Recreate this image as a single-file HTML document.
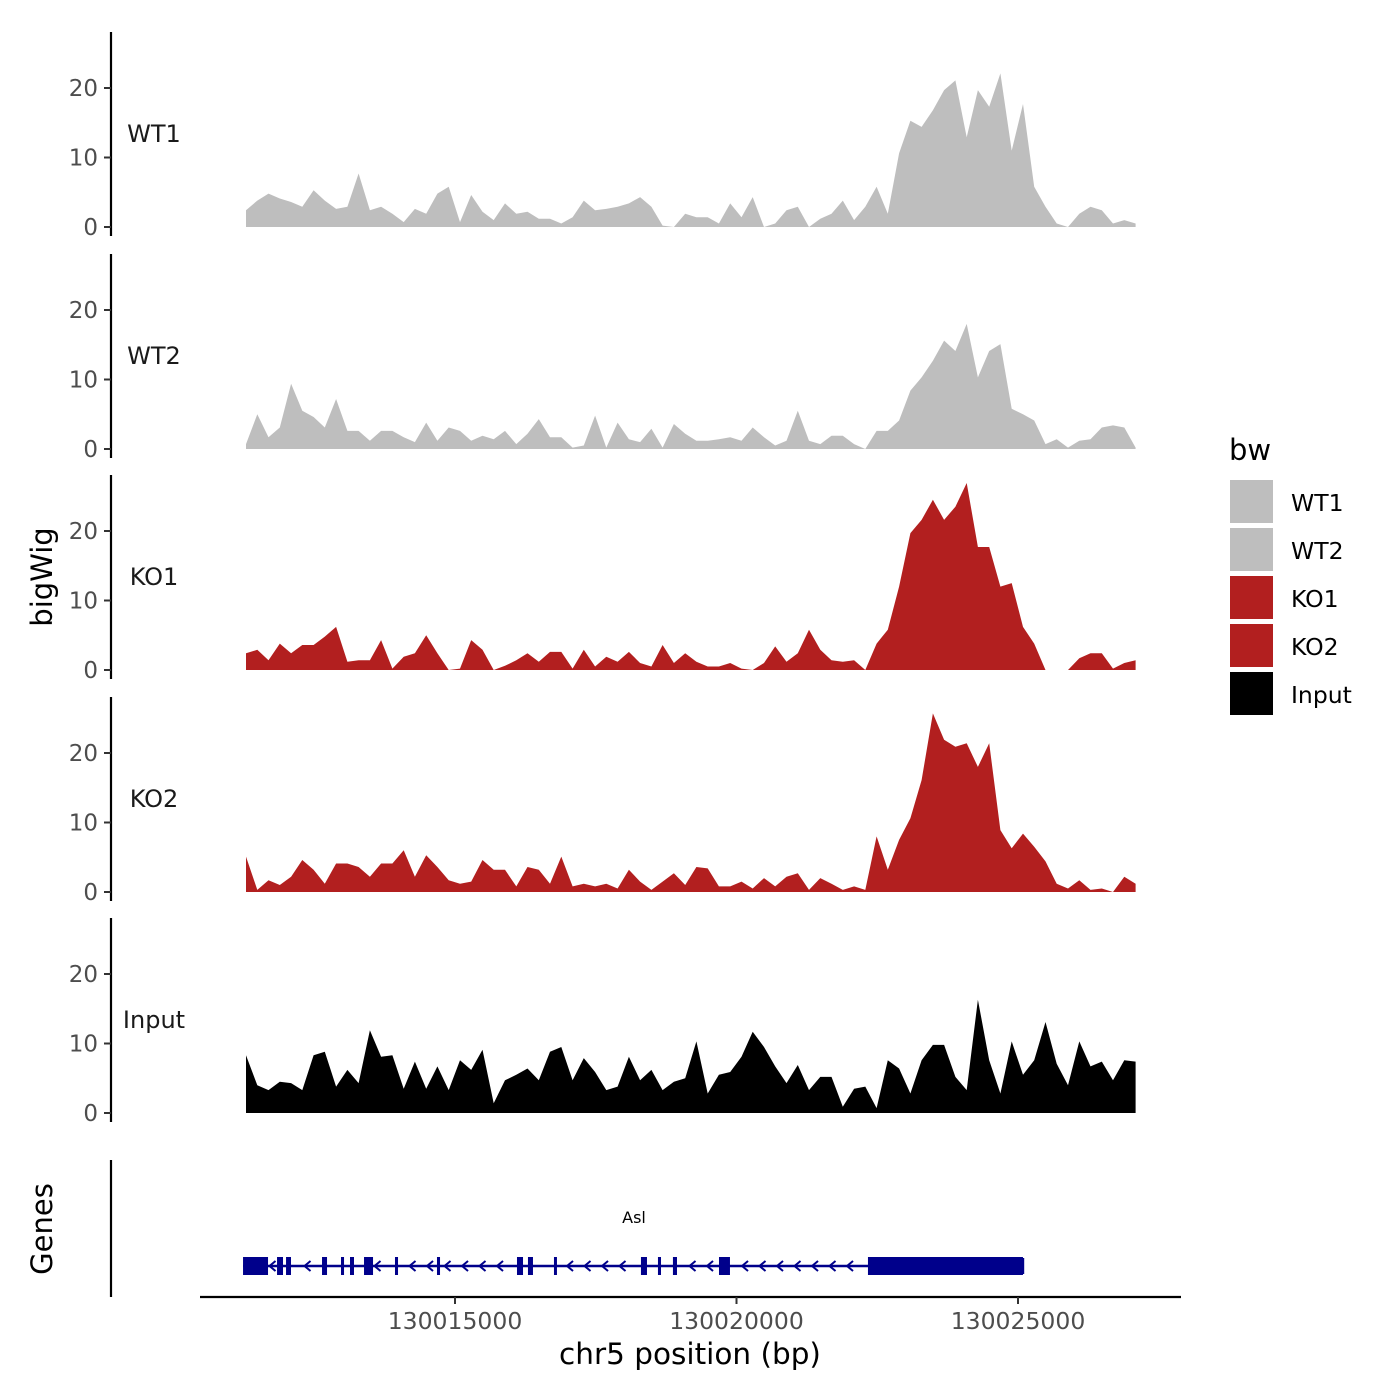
<!DOCTYPE html>
<html><head><meta charset="utf-8">
<style>
html,body{margin:0;padding:0;background:#fff;}
svg{display:block;font-family:"DejaVu Sans","Liberation Sans",sans-serif;}
</style></head>
<body>
<svg id="chart" width="1400" height="1400" viewBox="0 0 1400 1400"></svg>
<script>
// ---- data ----
const startBp = 130011288;
const stepBp = 200;
const samples = ["WT1","WT2","KO1","KO2","Input"];
const wt1 = [2.4,3.8,4.8,4.1,3.6,2.9,5.3,3.8,2.6,2.9,7.7,2.4,2.9,1.9,0.7,2.6,1.9,4.8,5.8,0.7,4.6,2.2,1,3.4,1.9,2.2,1.2,1.2,0.5,1.4,3.8,2.4,2.6,2.9,3.4,4.3,2.9,0.2,0,1.9,1.4,1.4,0.5,3.4,1.4,4.3,0,0.5,2.4,2.9,0,1.2,1.9,3.8,1,2.9,5.8,1.9,10.6,15.3,14.4,16.8,19.7,21.1,12.9,19.7,17.3,22.1,11,17.7,5.8,2.9,0.5,0,1.9,2.9,2.4,0.5,1,0.5];
const wt2 = [0.7,5,1.7,3.1,9.4,5.5,4.6,3.1,7.2,2.6,2.6,1.2,2.6,2.6,1.7,1,3.8,1.2,3.1,2.6,1.2,1.9,1.4,2.6,0.7,2.2,4.3,1.7,1.7,0.2,0.5,4.8,0.2,3.8,1.4,1,2.9,0.2,3.6,2.2,1.2,1.2,1.4,1.7,1.2,3.1,1.7,0.5,1.2,5.5,1.2,0.7,1.9,1.9,0.7,0,2.6,2.6,4.1,8.4,10.3,12.7,15.6,14.1,18,10.3,14.1,15.1,5.8,5,4.1,0.7,1.4,0.2,1.2,1.4,3.1,3.4,3.1,0.2];
const ko1 = [2.4,2.9,1.4,3.8,2.4,3.6,3.6,4.8,6.2,1.2,1.4,1.4,4.3,0.2,1.9,2.4,5,2.4,0,0.2,4.3,2.9,0,0.6,1.4,2.4,1.2,2.6,2.6,0.2,2.9,0.5,1.9,1.2,2.6,1,0.5,3.6,1,2.4,1.2,0.5,0.5,1,0.2,0,1,3.4,1.2,2.4,5.8,2.9,1.4,1.2,1.4,0,3.8,5.8,12,19.7,21.6,24.5,21.6,23.5,26.9,17.7,17.7,12,12.5,6.2,3.8,0,0,0,1.7,2.4,2.4,0.2,1,1.4];
const ko2 = [5.1,0.3,1.7,1,2.2,4.6,3.2,1.2,4.1,4.1,3.6,2.2,4.1,4.1,6,2.2,5.3,3.6,1.7,1.2,1.5,4.6,3.2,3.2,0.8,3.6,3.2,1.2,5.1,0.8,1.2,0.8,1.2,0.5,3.2,1.5,0.3,1.5,2.7,1,3.6,3.4,0.8,0.8,1.5,0.5,2,0.8,2.2,2.7,0.3,2,1.2,0.3,0.8,0.3,8,3.2,7.5,10.6,16.1,25.7,21.9,20.9,21.4,18,21.4,8.9,6.3,8.4,6.5,4.4,1.2,0.5,1.7,0.3,0.5,0,2.2,1.2];
const input = [8.3,4,3.3,4.5,4.3,3.3,8.3,8.8,3.8,6.2,4.3,11.9,8.1,8.3,3.5,7.4,3.5,6.7,3.3,7.6,6.2,9.1,1.4,4.7,5.5,6.4,4.7,8.8,9.5,4.7,7.9,5.9,3.3,3.8,8.1,4.7,6.2,3.3,4.5,5,10.3,2.8,5.5,5.9,8.1,11.7,9.5,6.7,4.3,6.9,3.3,5.2,5.2,0.9,3.5,3.8,0.7,7.6,6.4,2.8,7.6,9.8,9.8,5.2,3.3,16.3,7.6,2.8,10.3,5.5,7.6,13.1,7.1,4,10.3,6.7,7.4,4.7,7.6,7.4];
const seriesValues = [wt1, wt2, ko1, ko2, input];
const yTicks = [0,10,20];
const xTicks = [130015000,130020000,130025000];
const xTickLabels = ["130015000","130020000","130025000"];
const exonStarts = [130011235,130011839,130011999,130012638,130012975,130013135,130013384,130013934,130014680,130016101,130016296,130016758,130018303,130018605,130018871,130019689,130022335];
const exonEnds   = [130011679,130011945,130012087,130012727,130013029,130013206,130013544,130013988,130014734,130016208,130016385,130016811,130018410,130018659,130018943,130019884,130025088];
const geneStart = 130011235, geneEnd = 130025088;
const legendLabels = ["WT1","WT2","KO1","KO2","Input"];
const colors = {WT1:"#bebebe",WT2:"#bebebe",KO1:"#b21f1f",KO2:"#b21f1f",Input:"#000000"};

// ---- scales ----
const NS="http://www.w3.org/2000/svg";
const svg=document.getElementById('chart');
function xs(bp){return 455+(bp-130015000)*281.5/5000;}
const panelZero=[227,449,670,892,1113];
function ys(p,v){return panelZero[p]-v*6.95;}
function mk(tag,attrs,parent){const e=document.createElementNS(NS,tag);for(const k in attrs)e.setAttribute(k,attrs[k]);(parent||svg).appendChild(e);return e;}

// panels
samples.forEach((s,p)=>{
  const g=mk('g',{});
  
  
  const vals=seriesValues[p];
  let d='M'+xs(startBp).toFixed(1)+','+ys(p,0);
  vals.forEach((v,i)=>{d+=' L'+xs(startBp+i*stepBp).toFixed(1)+','+ys(p,v).toFixed(1);});
  d+=' L'+xs(startBp+(vals.length-1)*stepBp).toFixed(1)+','+ys(p,0)+' Z';
  const area=mk('path',{d:d,fill:colors[s]},g);
  
  
  const ax=mk('line',{x1:111,x2:111,y1:panelZero[p]-195,y2:panelZero[p]+9,stroke:'#000','stroke-width':2.2},g);
  
  
  yTicks.forEach(t=>{
    const y=ys(p,t);
    mk('line',{x1:104,x2:111,y1:y,y2:y,stroke:'#333','stroke-width':2},g);
    const tl=mk('text',{x:98,y:y+8,'text-anchor':'end','font-size':23,fill:'#4d4d4d'},g);
    tl.textContent=t;
    
    
  });
  const lab=mk('text',{x:154,y:panelZero[p]-85,'text-anchor':'middle','font-size':24,fill:'#1a1a1a'},g);
  lab.textContent=s;
  
  
});

// y titles
const yt=mk('text',{x:0,y:0,transform:'translate(52,577) rotate(-90)','text-anchor':'middle','font-size':29,fill:'#000'});
yt.textContent='bigWig';


const gt=mk('text',{x:0,y:0,transform:'translate(52,1229) rotate(-90)','text-anchor':'middle','font-size':29,fill:'#000'});
gt.textContent='Genes';



// gene track
const gg=mk('g',{});


const gax=mk('line',{x1:111,x2:111,y1:1160,y2:1297,stroke:'#000','stroke-width':2.2},gg);


const gy=1266;
const gl=mk('line',{x1:xs(geneStart),x2:xs(geneEnd),y1:gy,y2:gy,stroke:'#00008b','stroke-width':2.5},gg);


mk('line',{x1:xs(geneEnd),x2:xs(geneEnd),y1:gy-8,y2:gy+8,stroke:'#00008b','stroke-width':2.5},gg);
for(let x=xs(geneStart)+12;x<xs(geneEnd)-4;x+=17.5){
  let inside=false;
  for(let k=0;k<exonStarts.length;k++){if(x>xs(exonStarts[k])-4&&x<xs(exonEnds[k])+4)inside=true;}
  if(inside)continue;
  mk('path',{d:`M${x+3},${gy-5} L${x-3},${gy} L${x+3},${gy+5}`,stroke:'#00008b','stroke-width':2,fill:'none'},gg);
}
exonStarts.forEach((s,k)=>{
  const r=mk('rect',{x:xs(s),y:gy-9,width:Math.max(2.5,xs(exonEnds[k])-xs(s)),height:18,fill:'#00008b'},gg);
  
  
});
const gn=mk('text',{x:634,y:1223,'text-anchor':'middle','font-size':16,fill:'#000'},gg);
gn.textContent='Asl';



// x axis
const xa=mk('line',{x1:200,x2:1181,y1:1297,y2:1297,stroke:'#000','stroke-width':2.2});


xTicks.forEach((t,i)=>{
  const x=xs(t);
  mk('line',{x1:x,x2:x,y1:1297,y2:1304,stroke:'#333','stroke-width':2});
  const tl=mk('text',{x:x,y:1329,'text-anchor':'middle','font-size':23.5,fill:'#4d4d4d'});
  tl.textContent=xTickLabels[i];
  
  
});
const xt=mk('text',{x:690,y:1364,'text-anchor':'middle','font-size':29.5,fill:'#000'});
xt.textContent='chr5 position (bp)';



// legend
const lg=mk('g',{});


const ltitle=mk('text',{x:1229,y:460,'font-size':29,fill:'#000'},lg);
ltitle.textContent='bw';


legendLabels.forEach((s,i)=>{
  const e=mk('g',{},lg);
  
  
  mk('rect',{x:1230,y:480+i*48,width:43,height:43,fill:colors[s]},e);
  const t=mk('text',{x:1291,y:511+i*48,'font-size':23.5,fill:'#000'},e);
  t.textContent=s;
});
</script>
</body></html>
